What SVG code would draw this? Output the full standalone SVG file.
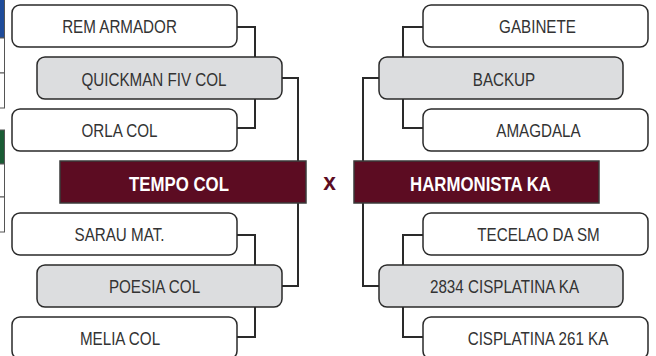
<svg xmlns="http://www.w3.org/2000/svg" width="656" height="356" viewBox="0 0 656 356">
<style>
.box{fill:#ffffff;stroke:#2a2a2a;stroke-width:1.5}
.mid{fill:#dcdddf;stroke:#2a2a2a;stroke-width:1.5}
.fin{fill:#5c0c22;stroke:#3a3a3a;stroke-width:1.5}
.lbl{font-family:"Liberation Sans",Arial,sans-serif;font-size:19px;fill:#333333;text-anchor:middle}
.flbl{font-family:"Liberation Sans",Arial,sans-serif;font-size:21px;font-weight:bold;fill:#ffffff;text-anchor:middle}
.vs{font-family:"Liberation Sans",Arial,sans-serif;font-size:24px;font-weight:bold;fill:#5c0c22;text-anchor:middle}
.con{fill:none;stroke:#2a2a2a;stroke-width:2}
.side{stroke:#555555;stroke-width:1}
</style>
<rect width="656" height="356" fill="#ffffff"/>
<g id="side-tables">
<rect x="-10" y="-5" width="14.5" height="43" fill="#1f4c9a" class="side"/>
<rect x="-10" y="38" width="14.5" height="35" fill="#ffffff" class="side"/>
<rect x="-10" y="73" width="14.5" height="35" fill="#ffffff" class="side"/>
<rect x="-10" y="130" width="14.5" height="34" fill="#1a5c34" class="side"/>
<rect x="-10" y="164" width="14.5" height="33" fill="#ffffff" class="side"/>
<rect x="-10" y="197" width="14.5" height="35" fill="#ffffff" class="side"/>
</g>
<g id="connectors">
<path class="con" d="M237,27 H255 V57"/>
<path class="con" d="M237,128 H255 V99"/>
<path class="con" d="M282,78 H298 V161"/>
<path class="con" d="M298,203 V286 H282"/>
<path class="con" d="M237,235 H255 V265"/>
<path class="con" d="M237,337 H255 V307"/>
<path class="con" d="M423,27 H403 V57"/>
<path class="con" d="M423,128 H403 V99"/>
<path class="con" d="M379,78 H363 V161"/>
<path class="con" d="M363,203 V286 H379"/>
<path class="con" d="M423,235 H403 V265"/>
<path class="con" d="M423,337 H403 V307"/>
</g>
<g id="rem-armador"><rect class="box" x="12" y="5" width="225" height="42" rx="8"/><text class="lbl" transform="translate(119.5,33) scale(0.8,1)">REM ARMADOR</text></g>
<g id="quickman-fiv-col"><rect class="mid" x="37" y="57" width="245" height="42" rx="8"/><text class="lbl" transform="translate(154,85.5) scale(0.8,1)">QUICKMAN FIV COL</text></g>
<g id="orla-col"><rect class="box" x="12" y="109" width="225" height="42" rx="8"/><text class="lbl" transform="translate(119.5,137) scale(0.8,1)">ORLA COL</text></g>
<g id="tempo-col"><rect class="fin" x="60" y="161" width="246" height="42"/><text class="flbl" transform="translate(179,191) scale(0.8,1)">TEMPO COL</text></g>
<g id="sarau-mat"><rect class="box" x="12" y="213" width="225" height="42" rx="8"/><text class="lbl" transform="translate(119.5,241) scale(0.8,1)">SARAU MAT.</text></g>
<g id="poesia-col"><rect class="mid" x="37" y="265" width="245" height="42" rx="8"/><text class="lbl" transform="translate(154.5,293) scale(0.8,1)">POESIA COL</text></g>
<g id="melia-col"><rect class="box" x="12" y="317" width="225" height="42" rx="8"/><text class="lbl" transform="translate(120,345) scale(0.8,1)">MELIA COL</text></g>
<g id="versus"><text class="vs" transform="translate(329.5,189.5) scale(0.95,1)">x</text></g>
<g id="gabinete"><rect class="box" x="423" y="5" width="225" height="42" rx="8"/><text class="lbl" transform="translate(537.5,33) scale(0.8,1)">GABINETE</text></g>
<g id="backup"><rect class="mid" x="379" y="57" width="244" height="42" rx="8"/><text class="lbl" transform="translate(504,85.5) scale(0.8,1)">BACKUP</text></g>
<g id="amagdala"><rect class="box" x="423" y="109" width="225" height="42" rx="8"/><text class="lbl" transform="translate(538.5,137) scale(0.8,1)">AMAGDALA</text></g>
<g id="harmonista-ka"><rect class="fin" x="354" y="161" width="245" height="42"/><text class="flbl" transform="translate(480.5,191) scale(0.8,1)">HARMONISTA KA</text></g>
<g id="tecelao-da-sm"><rect class="box" x="423" y="213" width="225" height="42" rx="8"/><text class="lbl" transform="translate(538.5,241) scale(0.8,1)">TECELAO DA SM</text></g>
<g id="cisplatina-2834"><rect class="mid" x="379" y="265" width="244" height="42" rx="8"/><text class="lbl" transform="translate(504.5,293) scale(0.8,1)">2834 CISPLATINA KA</text></g>
<g id="cisplatina-261"><rect class="box" x="423" y="317" width="225" height="42" rx="8"/><text class="lbl" transform="translate(538,345) scale(0.8,1)">CISPLATINA 261 KA</text></g>
</svg>
